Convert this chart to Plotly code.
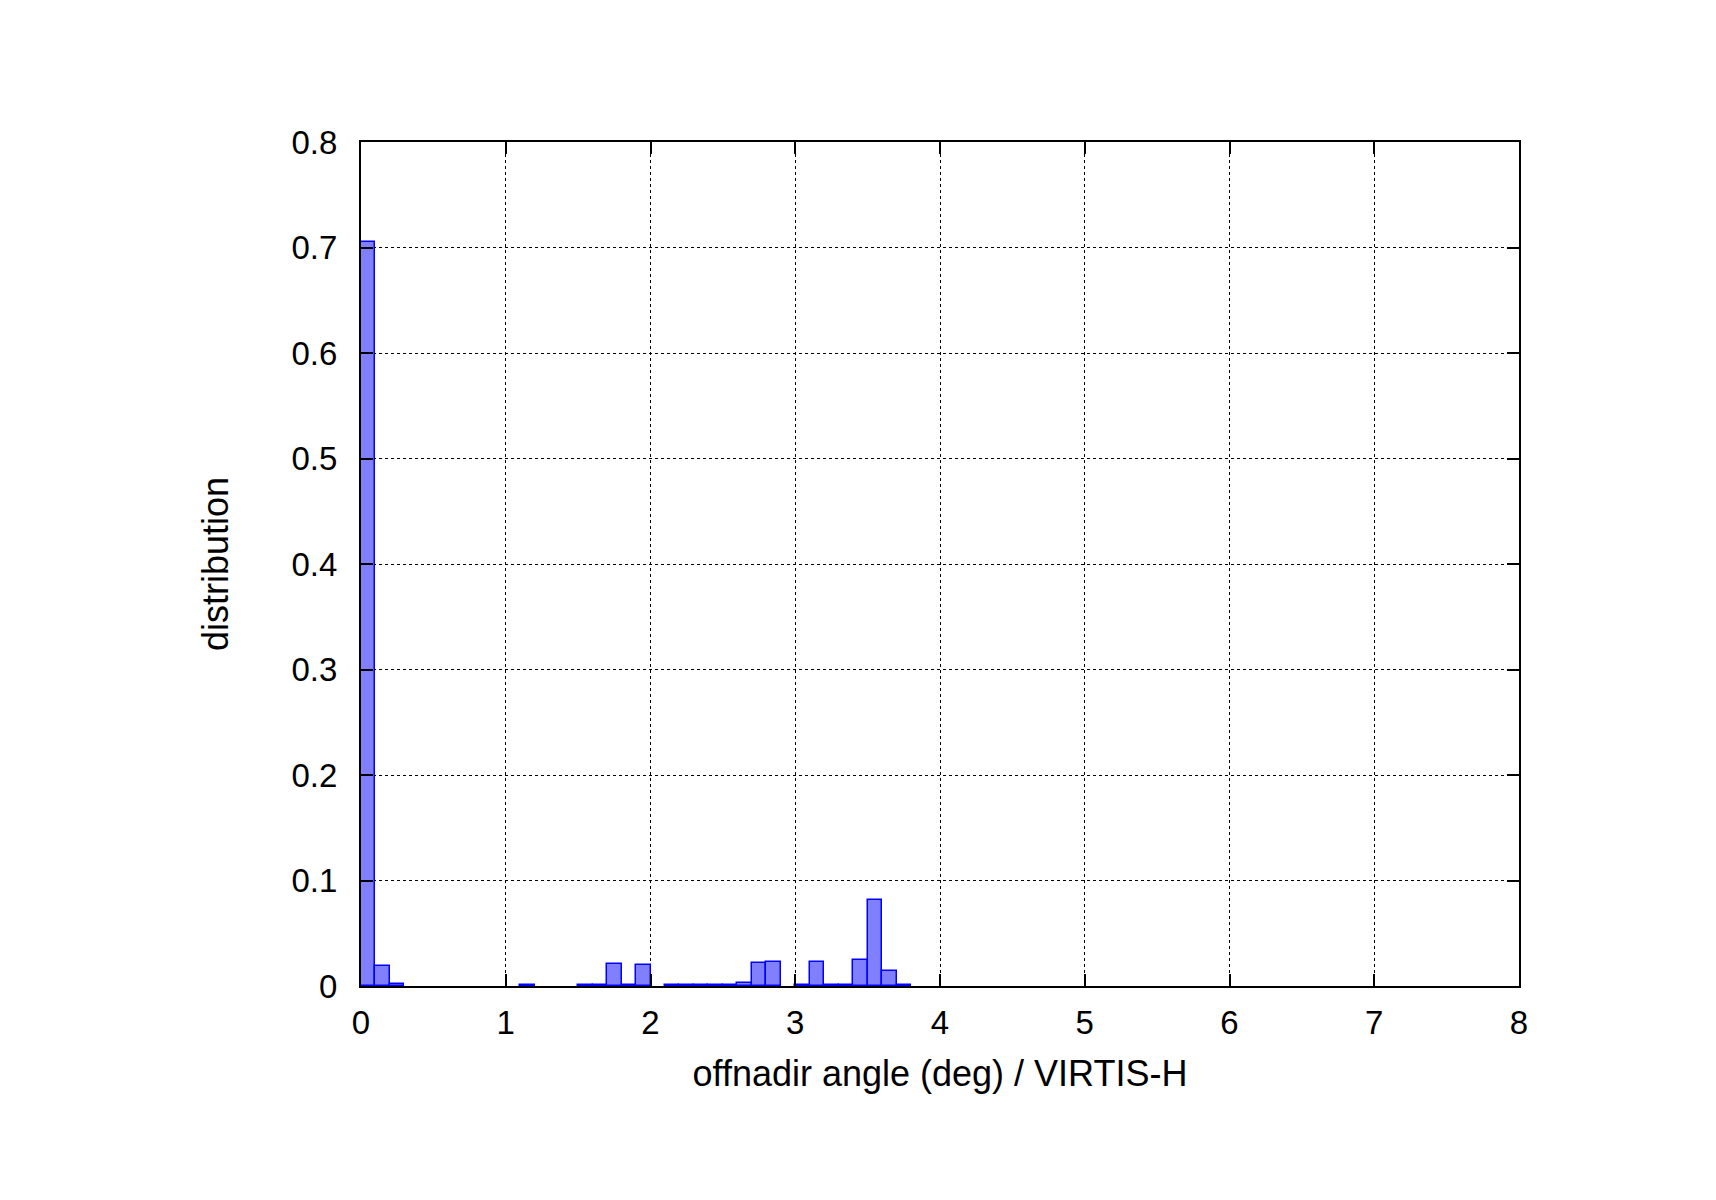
import plotly.graph_objects as go

# histogram of offnadir angle, bins of 0.1 deg (left edges)
bin_left = [0.0, 0.1, 0.2, 1.1, 1.5, 1.6, 1.7, 1.8, 1.9, 2.1, 2.2, 2.3, 2.4,
            2.5, 2.6, 2.7, 2.8, 3.0, 3.1, 3.2, 3.3, 3.4, 3.5, 3.6, 3.7]
distribution = [0.705, 0.0187, 0.0015, 0.001, 0.001, 0.001, 0.0206, 0.001,
                0.0196, 0.001, 0.001, 0.001, 0.001, 0.001, 0.0025, 0.0215,
                0.0225, 0.001, 0.0225, 0.001, 0.001, 0.0244, 0.0813, 0.0139,
                0.001]
bin_width = 0.1

x_ticks = [0, 1, 2, 3, 4, 5, 6, 7, 8]
y_ticks = [0, 0.1, 0.2, 0.3, 0.4, 0.5, 0.6, 0.7, 0.8]
y_tick_text = ["0", "0.1", "0.2", "0.3", "0.4", "0.5", "0.6", "0.7", "0.8"]

fig = go.Figure()
fig.add_trace(go.Bar(
    x=bin_left,
    y=distribution,
    width=bin_width,
    offset=0,
    marker=dict(color="rgb(128,128,255)", line=dict(color="rgb(0,0,255)", width=1.5)),
    showlegend=False,
))

font = dict(family="Liberation Sans, Arial, sans-serif", size=33, color="black")
title_font = dict(family="Liberation Sans, Arial, sans-serif", size=36, color="black")

fig.update_layout(
    width=1716,
    height=1200,
    plot_bgcolor="white",
    paper_bgcolor="white",
    margin=dict(l=353, r=205, t=134, b=222),
    font=font,
    bargap=0,
    xaxis=dict(
        range=[0, 8],
        tickvals=x_ticks,
        ticks="inside",
        ticklen=12,
        tickwidth=2,
        tickcolor="black",
        showline=True,
        linewidth=2,
        linecolor="black",
        mirror="ticks",
        showgrid=True,
        gridcolor="black",
        griddash="dot",
        gridwidth=1,
        zeroline=False,
        ticklabelstandoff=6,
        title=dict(text="offnadir angle (deg) / VIRTIS-H", standoff=21, font=title_font),
    ),
    yaxis=dict(
        range=[0, 0.8],
        tickvals=y_ticks,
        ticktext=y_tick_text,
        ticks="inside",
        ticklen=12,
        tickwidth=2,
        tickcolor="black",
        showline=True,
        linewidth=2,
        linecolor="black",
        mirror="ticks",
        showgrid=True,
        gridcolor="black",
        griddash="dot",
        gridwidth=1,
        zeroline=False,
        ticklabelstandoff=15,
        title=dict(text="distribution", standoff=52, font=title_font),
    ),
)

fig.write_html("out.html")
